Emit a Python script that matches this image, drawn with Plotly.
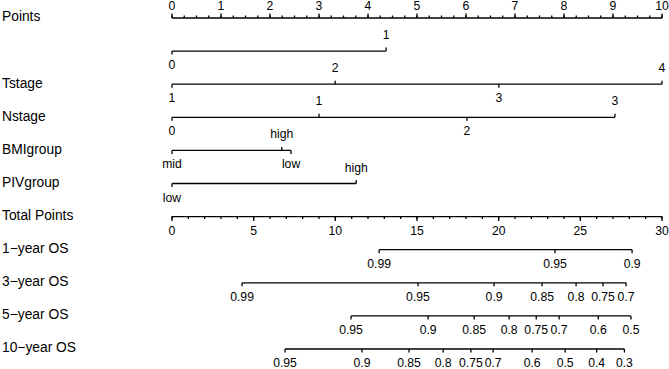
import plotly.graph_objects as go

# ---------------- data ----------------
row_names = ["Points", "", "Tstage", "Nstage", "BMIgroup", "PIVgroup",
             "Total Points", "1\u2212year OS", "3\u2212year OS", "5\u2212year OS", "10\u2212year OS"]

points_major = list(range(0, 11))
points_minor = [i * 0.25 for i in range(0, 41)]

var0_levels = ["0", "1"]
var0_points = [0, 4.37]
var0_side = ["below", "above"]

tstage_levels = ["1", "2", "3", "4"]
tstage_points = [0, 3.33, 6.67, 10]
tstage_side = ["below", "above", "below", "above"]

nstage_levels = ["0", "1", "2", "3"]
nstage_points = [0, 3.0, 6.02, 9.04]
nstage_side = ["below", "above", "below", "above"]

bmi_levels = ["mid", "high", "low"]
bmi_points = [0, 2.24, 2.43]
bmi_side = ["below", "above", "below"]

piv_levels = ["low", "high"]
piv_points = [0, 3.76]
piv_side = ["below", "above"]

total_major = [0, 5, 10, 15, 20, 25, 30]
total_minor = list(range(0, 31))

os1_probs = ["0.99", "0.95", "0.9"]
os1_total = [12.68, 23.45, 28.17]
os3_probs = ["0.99", "0.95", "0.9", "0.85", "0.8", "0.75", "0.7"]
os3_total = [4.29, 15.06, 19.72, 22.66, 24.74, 26.39, 27.8]
os5_probs = ["0.95", "0.9", "0.85", "0.8", "0.75", "0.7", "0.6", "0.5"]
os5_total = [10.96, 15.68, 18.5, 20.64, 22.3, 23.7, 26.1, 28.1]
os10_probs = ["0.95", "0.9", "0.85", "0.8", "0.75", "0.7", "0.6", "0.5", "0.4", "0.3"]
os10_total = [6.92, 11.63, 14.51, 16.6, 18.3, 19.66, 22.05, 24.07, 26.0, 27.7]

# ---------------- layout helpers ----------------
W, H = 669, 369
X0, X10 = 172, 662
PPU = (X10 - X0) / 10.0
xr = [-X0 / PPU, (W - X0) / PPU]
row_y = [18 + 33.1 * i for i in range(11)]

FONT = "Liberation Sans, Arial, sans-serif"
LAB = 13.8
TICK = 12.2
LW = 1.3
COL = "black"

fig = go.Figure()


def add_line(xs, y, axis="x"):
    fig.add_trace(go.Scatter(x=xs, y=[y] * len(xs), mode="lines", xaxis=axis, cliponaxis=False,
                             line=dict(color=COL, width=LW), hoverinfo="skip", showlegend=False))


def add_ticks(xs, y0, y1, axis="x", width=LW):
    px, py = [], []
    for x in xs:
        px += [x, x, None]
        py += [y0, y1, None]
    fig.add_trace(go.Scatter(x=px, y=py, mode="lines", xaxis=axis, cliponaxis=False,
                             line=dict(color=COL, width=width), hoverinfo="skip", showlegend=False))


def add_text(xs, ys, texts, axis="x", size=TICK, pos="middle center"):
    fig.add_trace(go.Scatter(x=xs, y=ys, text=texts, mode="text", xaxis=axis, cliponaxis=False,
                             textposition=pos, textfont=dict(family=FONT, size=size, color=COL),
                             hoverinfo="skip", showlegend=False))


# row names
add_text([(2 - X0) / PPU] * len(row_names), row_y, row_names, size=LAB, pos="middle right")

# Points axis
y = row_y[0]
add_line([0, 10], y)
add_ticks(points_minor, y, y - 2.5)
add_ticks(points_major, y, y - 4.5)
add_text(points_major, [y - 11] * len(points_major), [str(v) for v in points_major])

# variable rows
variables = [
    (var0_levels, var0_points, var0_side),
    (tstage_levels, tstage_points, tstage_side),
    (nstage_levels, nstage_points, nstage_side),
    (bmi_levels, bmi_points, bmi_side),
    (piv_levels, piv_points, piv_side),
]
for i, (lev, pts, side) in enumerate(variables):
    y = row_y[i + 1]
    add_line([min(pts), max(pts)], y)
    for l, p, s in zip(lev, pts, side):
        d = -1 if s == "above" else 1
        add_ticks([p], y, y + d * 3.5)
        add_text([p], [y + d * 15], [l])

# Total points axis (x2: total-points scale)
y = row_y[6]
add_line([0, 30], y, axis="x2")
add_ticks(total_minor, y, y + 2.5, axis="x2")
add_ticks(total_major, y, y + 4.5, axis="x2")
add_text(total_major, [y + 15] * len(total_major), [str(v) for v in total_major], axis="x2")

# survival rows
os_rows = [(os1_probs, os1_total), (os3_probs, os3_total),
           (os5_probs, os5_total), (os10_probs, os10_total)]
for i, (probs, tot) in enumerate(os_rows):
    y = row_y[7 + i]
    add_line([min(tot), max(tot)], y, axis="x2")
    add_ticks(tot, y, y + 3.5, axis="x2")
    add_text(tot, [y + 15] * len(tot), probs, axis="x2")

fig.update_layout(
    width=W, height=H,
    margin=dict(l=0, r=0, t=0, b=0),
    paper_bgcolor="white", plot_bgcolor="white",
    xaxis=dict(range=xr, visible=False, fixedrange=True),
    xaxis2=dict(range=[v * 3 for v in xr], visible=False, overlaying="x", fixedrange=True),
    yaxis=dict(range=[H, 0], visible=False, fixedrange=True),
    showlegend=False,
)

fig.write_html("out.html", config={"displayModeBar": False},
               post_script="document.body.style.margin='0px';document.body.style.overflow='hidden';")
